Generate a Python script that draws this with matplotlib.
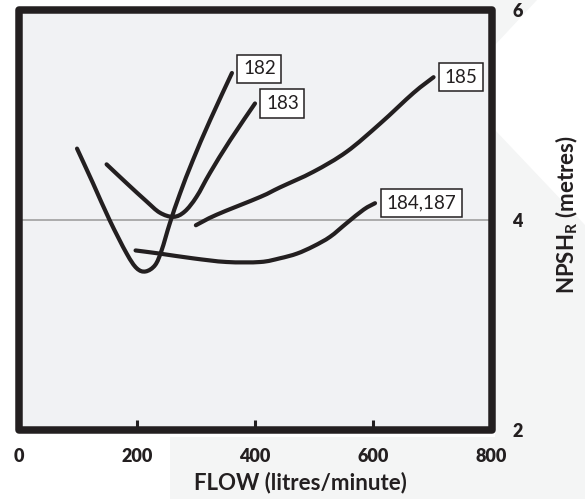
import matplotlib
matplotlib.use("Agg")
import matplotlib.pyplot as plt
from matplotlib.patches import Rectangle, Polygon, PathPatch
from matplotlib.path import Path

plt.rcParams['font.family'] = ['Lato', 'DejaVu Sans']
plt.rcParams['mathtext.fontset'] = 'custom'
plt.rcParams['mathtext.rm'] = 'Lato:bold'
plt.rcParams['mathtext.bf'] = 'Lato:bold'

# ---- data ----
flow_182 = [99, 126, 154, 183, 200, 215, 231, 242, 256, 273, 295, 324, 361]
npsh_182 = [4.68, 4.35, 4.00, 3.68, 3.54, 3.51, 3.57, 3.71, 3.97, 4.25, 4.57, 4.95, 5.40]

flow_183 = [149, 183, 216, 239, 262, 281, 301, 324, 358, 400]
npsh_183 = [4.53, 4.35, 4.18, 4.07, 4.03, 4.08, 4.22, 4.45, 4.76, 5.11]

flow_185 = [300, 335, 409, 442, 499, 555, 612, 668, 702]
npsh_185 = [3.95, 4.05, 4.22, 4.31, 4.46, 4.65, 4.92, 5.21, 5.36]

flow_184 = [198, 239, 295, 352, 409, 442, 471, 499, 527, 555, 584, 603]
npsh_184 = [3.71, 3.68, 3.635, 3.60, 3.60, 3.635, 3.68, 3.75, 3.84, 3.97, 4.10, 4.16]

series = [("182", flow_182, npsh_182),
          ("183", flow_183, npsh_183),
          ("185", flow_185, npsh_185),
          ("184,187", flow_184, npsh_184)]

x_ticks = [0, 200, 400, 600, 800]
y_ticks = [2, 4, 6]
ref_level = 4

INK = '#231f20'


def smooth_path(xs, ys):
    """Smoothed line through the given points (Catmull-Rom drawn as cubic Beziers)."""
    pts = list(zip(xs, ys))
    n = len(pts)
    verts = [pts[0]]
    codes = [Path.MOVETO]
    for i in range(n - 1):
        p0 = pts[i - 1] if i > 0 else pts[i]
        p1 = pts[i]
        p2 = pts[i + 1]
        p3 = pts[i + 2] if i + 2 < n else pts[i + 1]
        c1 = (p1[0] + (p2[0] - p0[0]) / 6.0, p1[1] + (p2[1] - p0[1]) / 6.0)
        c2 = (p2[0] - (p3[0] - p1[0]) / 6.0, p2[1] - (p3[1] - p1[1]) / 6.0)
        verts += [c1, c2, p2]
        codes += [Path.CURVE4] * 3
    return Path(verts, codes)


fig = plt.figure(figsize=(5.85, 4.99), dpi=100)

# faint watermark shapes in the figure background
wm = '#f4f5f5'
def fig_poly(pix):
    return Polygon([(x / 585, 1 - y / 499) for x, y in pix], closed=True,
                   transform=fig.transFigure, fc=wm, ec='none', zorder=-10)
fig.patches.append(fig_poly([(170, 0), (537, 0), (495, 45), (495, 20), (170, 20)]))
fig.patches.append(fig_poly([(495, 130), (585, 225), (585, 499), (495, 499)]))
fig.patches.append(fig_poly([(170, 437), (585, 437), (585, 499), (170, 499)]))

ax = fig.add_axes([18.5/585, 1-430/499, (491.5-18.5)/585, (430-10)/499])
ax.set_xlim(x_ticks[0], x_ticks[-1])
ax.set_ylim(y_ticks[0], y_ticks[-1])
ax.set_facecolor('#f1f2f4')
for s in ax.spines.values():
    s.set_visible(False)
ax.add_patch(Rectangle((0, 0), 1, 1, transform=ax.transAxes, fill=False, lw=5.4,
                       ec=INK, joinstyle='round', clip_on=False, zorder=6))

ax.axhline(ref_level, color='#a6a6a6', lw=1.3, zorder=1)

offsets = {"182": (8, 3), "183": (8, 0), "185": (8, 0), "184,187": (8, 0)}
for name, fx, fy in series:
    ax.add_patch(PathPatch(smooth_path(fx, fy), fill=False, ec=INK, lw=3.0,
                           capstyle='round', joinstyle='round', zorder=3))
    ax.annotate(name, (fx[-1], fy[-1]), xytext=offsets[name], textcoords='offset points',
                ha='left', va='center', fontsize=13.5, color=INK, zorder=7,
                bbox=dict(boxstyle='square,pad=0.3', fc='white', ec=INK, lw=1.1))

ax.yaxis.tick_right()
ax.set_xticks(x_ticks, labels=[str(v) for v in x_ticks], fontweight='heavy', fontsize=13, color=INK)
ax.set_yticks(y_ticks, labels=[str(v) for v in y_ticks], fontweight='heavy', fontsize=13, color=INK)
ax.tick_params(axis='x', direction='in', length=7, width=2.2, pad=13,
               color=INK, top=False)
ax.tick_params(axis='y', length=0, pad=15, left=False)

fig.text(300/585, 1-483/499, 'FLOW (litres/minute)', ha='center', va='center',
         fontsize=16, fontweight='bold', color=INK)
fig.text(567/585, 1-215/499, r'NPSH$_\mathrm{R}$ (metres)', rotation=90, ha='center', va='center',
         fontsize=16, fontweight='bold', color=INK)

fig.savefig('out.png', dpi=100, facecolor='white')
